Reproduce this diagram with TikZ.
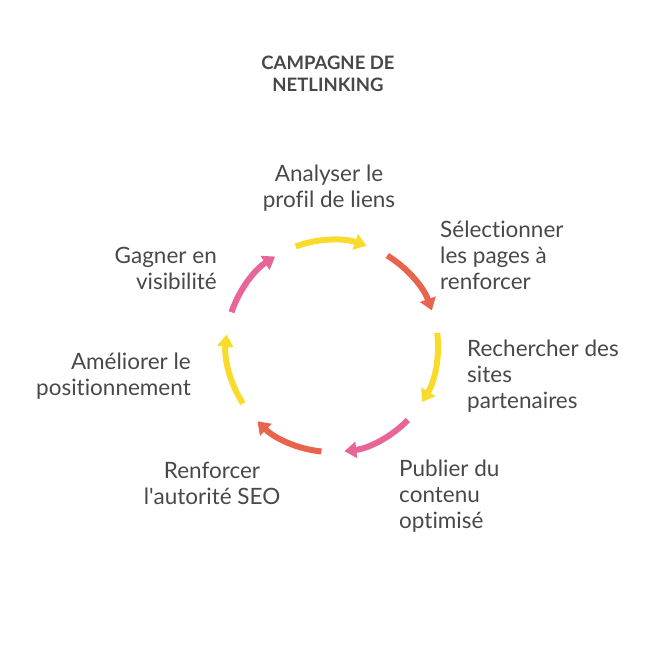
\documentclass[tikz,border=0pt]{standalone}
\usepackage{fontspec}
\setmainfont{Lato}[Ligatures={NoCommon}]
\usetikzlibrary{arrows.meta,positioning,calc}
\definecolor{cyellow}{HTML}{F9DC2B}
\definecolor{cred}{HTML}{E8644C}
\definecolor{cpink}{HTML}{E8659A}
\definecolor{ctext}{HTML}{484848}
\tikzset{
  step label/.style={text=ctext, font=\fontsize{22.5}{26}\selectfont, align=left, inner sep=0pt},
  cycle arc/.style={line width=6pt, -{Triangle[length=12pt,width=16pt]}}
}
\begin{document}
\begin{tikzpicture}[x=1pt,y=-1pt]
  \useasboundingbox (0,0) rectangle (660,646);
  \coordinate (c) at (332,346);
  \node [text=ctext, font=\bfseries\fontsize{18.5}{22}\selectfont, align=center] (title) at (328,74) {CAMPAGNE DE\\NETLINKING};
  \foreach \k/\col in {0/cyellow,1/cred,2/cyellow,3/cpink,4/cred,5/cyellow,6/cpink} {
    \pgfmathsetmacro{\sa}{-110+\k*51.43}
    \pgfmathsetmacro{\ea}{-71+\k*51.43}
    \draw [cycle arc, draw=\col, \col] ($(c)+(\sa:106)$) arc [start angle=\sa, end angle=\ea, radius=106];
  }
  \node [step label, align=center] (analyser) at (329,188) {Analyser le\\profil de liens};
  \node [step label, anchor=west] (selection) at (440,255) {Sélectionner\\les pages à\\renforcer};
  \node [step label, anchor=west] (recherche) at (467,376) {Rechercher des\\sites\\partenaires};
  \node [step label, anchor=west] (publier) at (399,496) {Publier du\\contenu\\optimisé};
  \node [step label, align=center] (renforcer) at (212,483) {Renforcer\\l\textquotesingle autorité SEO};
  \node [step label, anchor=east, align=right] (ameliorer) at (191,376) {Améliorer le\\positionnement};
  \node [step label, anchor=east, align=right] (gagner) at (217,268) {Gagner en\\visibilité};
\end{tikzpicture}
\end{document}
